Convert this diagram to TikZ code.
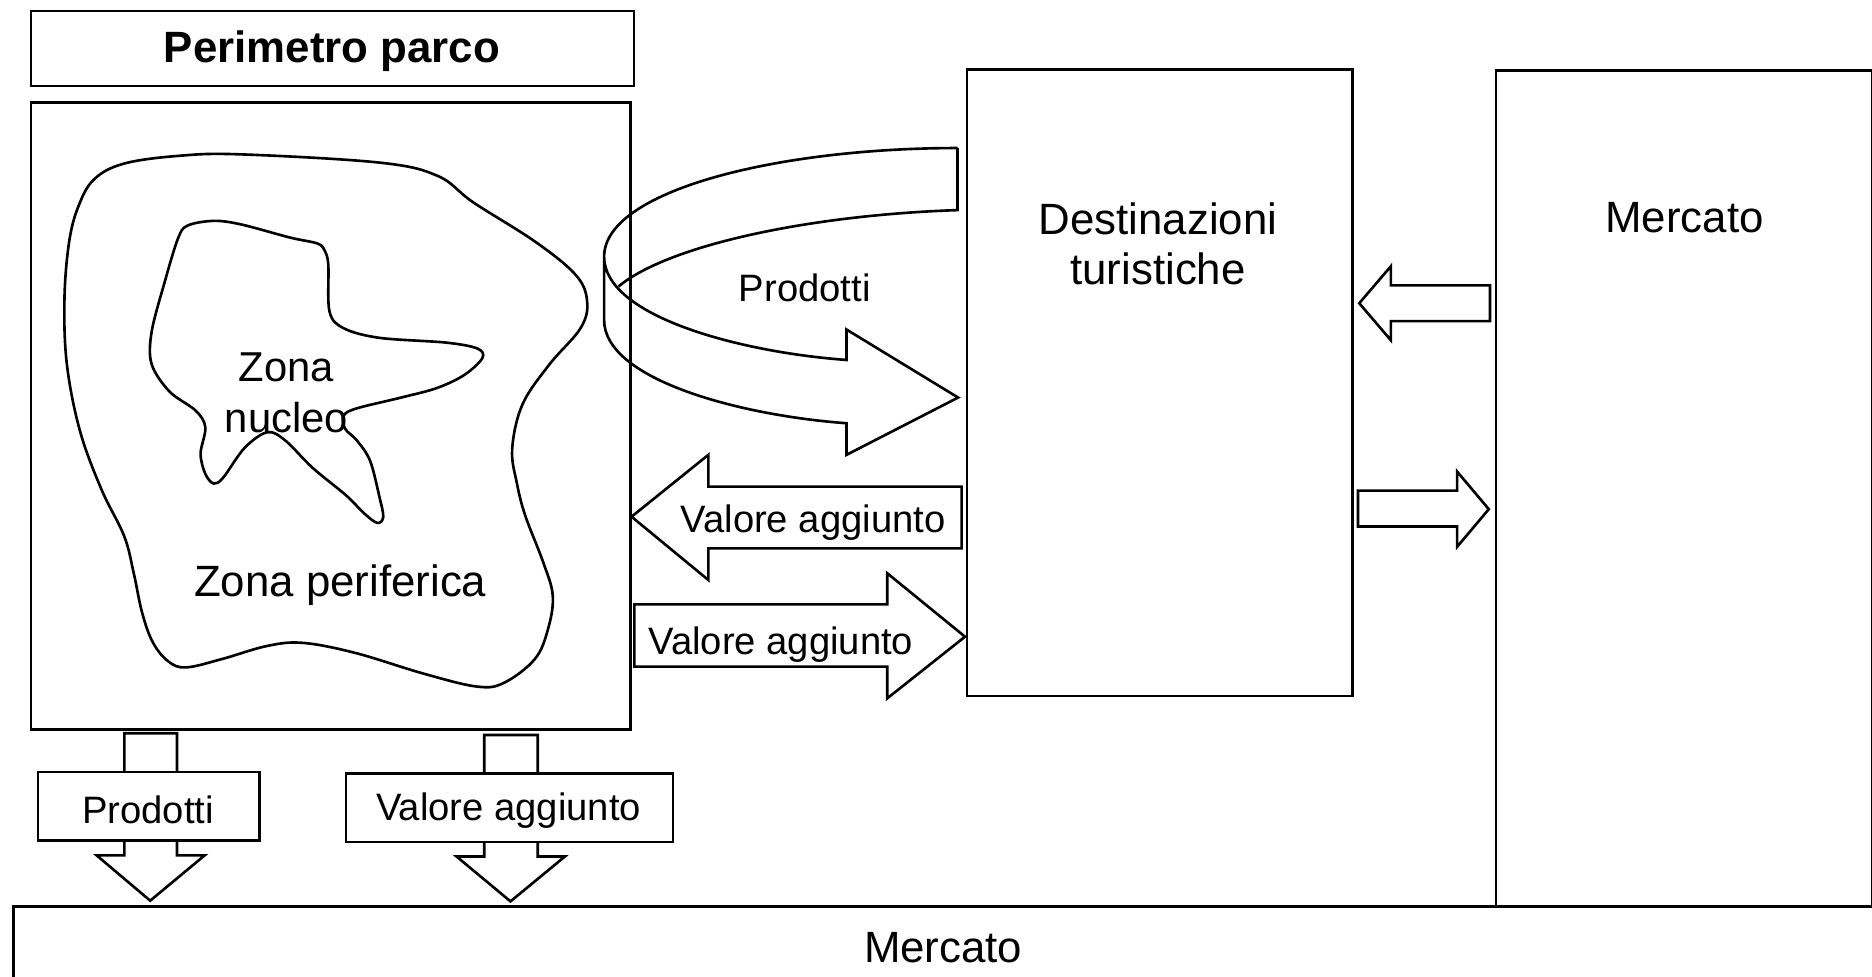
\documentclass[tikz,border=0pt]{standalone}
\usepackage{fontspec}
\setmainfont{Liberation Sans}
\begin{document}
\begin{tikzpicture}[x=1pt,y=-1pt,
  ln/.style={line width=2.2pt, line join=miter},
  box/.style={draw, line width=2.2pt, fill=white, inner sep=0pt, anchor=north west},
  big/.style={font=\fontsize{36.7}{42}\selectfont, align=center, inner sep=0pt},
  small/.style={font=\fontsize{32}{38}\selectfont, inner sep=0pt}]
\useasboundingbox (0,0) rectangle (1568,818);
% boxes
\node[box, minimum width=505pt, minimum height=63pt] (perim) at (25,8) {};
\node[big, font=\bfseries\fontsize{36.7}{42}\selectfont] (perimt) at (278,43) {Perimetro parco};
\node[box, minimum width=502pt, minimum height=525pt] (parco) at (25,85) {};
\node[box, minimum width=323pt, minimum height=525pt] (dest) at (809,57) {};
\node[box, minimum width=315pt, minimum height=700pt] (merc) at (1252,58) {};
\node[box, minimum width=1600pt, minimum height=90pt] (mercb) at (10,758) {};
\node[big] (destt) at (970,204) {Destinazioni\\turistiche};
\node[big] (merct) at (1411,182) {Mercato};
\node[big] (mercbt) at (790,794) {Mercato};
% outer blob
\draw[ln] plot[smooth cycle, tension=0.6] coordinates {(201.7,129.3) (317.8,136.2) (366.5,147.3) (396.4,169.5) (448.8,202.8) (482.5,230.6) (491.8,252.8) (486.2,275) (460,305.5) (437.6,338.8) (429,376) (433,405) (440,432) (455,471) (463,499) (459,527) (448,552) (422,572) (399,575) (354,564) (298,547) (254,538.5) (224,541) (186,552) (156,559) (141,554) (128,538) (119,513) (112,480) (104,449) (85,410) (67,361) (56,305) (54,250) (58,202) (66,172) (79,150) (104,137) (150,130.5)};
% inner blob
\draw[ln] plot[smooth cycle, tension=0.55] coordinates {(179,185) (202,188) (243,199) (266,204) (272,210) (275,222) (276,261) (288,275) (318,283) (374,287) (400,292) (404,300) (389,314) (366,325) (336,333) (299,342) (288,348) (289,359) (299,369) (310,386) (318,417) (321,433) (316,438) (305,430) (290,415) (262,392) (239,369) (224,362) (205,375) (187,400) (179,405) (172,397) (168,380) (172,358) (164,344) (142,328) (127,305) (127,278) (138,236) (149,200) (157,189)};
\node[font=\fontsize{35}{42}\selectfont, align=center, inner sep=0pt] (nucleo) at (240,329) {Zona\\nucleo};
\node[big] (perif) at (285,490) {Zona periferica};
% curved arrow Prodotti
\draw[ln] (802,124) -- (802,176) .. controls (680,180) and (560,205) .. (518,240);
\draw[ln] (802,124) .. controls (650,124) and (506,160) .. (506,215) -- (506,268)
  .. controls (506,318) and (620,348) .. (709,354.5) -- (709,381) -- (802.5,333) -- (709,276) -- (709,301.5)
  .. controls (620,295) and (506,265) .. (506,215);
\node[small] (prodc) at (674,241) {Prodotti};
% Valore aggiunto arrows
\draw[ln] (805.5,407.6) -- (593.3,407.6) -- (593.3,381) -- (529,432.8) -- (593.3,485.8) -- (593.3,459.3) -- (805.5,459.3) -- cycle;
\node[small] (va1) at (681,438) {Valore aggiunto};
\draw[ln] (531.3,506.2) -- (743.2,506.2) -- (743.2,480.2) -- (808.3,533.3) -- (743.2,584.9) -- (743.2,558.4) -- (531.3,558.4) -- cycle;
\node[small] (va2) at (654,540) {Valore aggiunto};
% right small arrows
\draw[ln] (1248,239) -- (1165,239) -- (1165,223) -- (1138.5,254) -- (1165,285) -- (1165,269) -- (1248,269) -- cycle;
\draw[ln] (1137.5,411) -- (1220.5,411) -- (1220.5,395) -- (1247,426.5) -- (1220.5,458) -- (1220.5,441) -- (1137.5,441) -- cycle;
% down arrows
\draw[ln] (104.2,614.2) -- (148.3,614.2) -- (148.3,716.5) -- (171.4,716.5) -- (125.8,754.4) -- (81,716.5) -- (104.2,716.5) -- cycle;
\draw[ln] (405.6,615.6) -- (450.4,615.6) -- (450.4,717.4) -- (473.2,717.4) -- (427.6,755) -- (382.4,717.4) -- (405.6,717.4) -- cycle;
\node[box, minimum width=185.6pt, minimum height=57.4pt] (prodb) at (30.6,645.6) {};
\node[small] (prodbt) at (124,678) {Prodotti};
\node[box, minimum width=273.8pt, minimum height=57.5pt] (vab) at (288.7,646.7) {};
\node[small] (vabt) at (426,679) {Valore aggiunto};
\end{tikzpicture}
\end{document}
